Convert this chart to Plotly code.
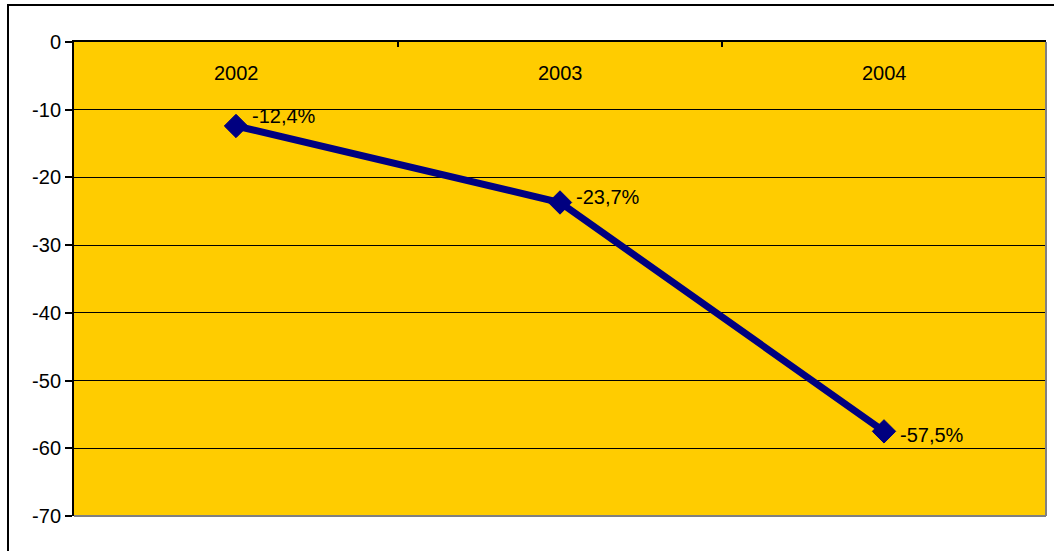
import plotly.graph_objects as go

categories = ["2002", "2003", "2004"]
values = [-12.4, -23.7, -57.5]
y_ticks = [0, -10, -20, -30, -40, -50, -60, -70]

labels = [f"{v:.1f}%".replace(".", ",") for v in values]
label_yshift = [10, 5, -4]
FONT = "Liberation Sans, Arial, sans-serif"

fig = go.Figure()
fig.add_trace(go.Scatter(
    x=list(range(len(categories))), y=values, mode="lines+markers",
    line=dict(color="#000080", width=7),
    marker=dict(symbol="diamond", size=18, color="#000080", line=dict(color="#000080", width=1)),
    cliponaxis=False, showlegend=False, hoverinfo="skip",
))

for i, (v, t) in enumerate(zip(values, labels)):
    fig.add_annotation(x=i, y=v, xref="x", yref="y", text=t, showarrow=False,
                       xanchor="left", yanchor="middle", xshift=14, yshift=label_yshift[i],
                       font=dict(family=FONT, size=20, color="black"))

for i, c in enumerate(categories):
    fig.add_annotation(x=i, y=(516 - 73) / 474, xref="x", yref="paper", text=c, showarrow=False,
                       xanchor="center", yanchor="middle",
                       font=dict(family=FONT, size=20, color="black"))

fig.update_layout(
    width=1054, height=551,
    margin=dict(l=74, r=8, t=42, b=35),
    paper_bgcolor="white", plot_bgcolor="#FFCC00",
    font=dict(family=FONT, size=20, color="black"),
    xaxis=dict(
        range=[-0.5, 2.5],
        side="top",
        showline=True, linecolor="black", linewidth=2,
        ticks="inside", ticklen=5, tickcolor="black", tickwidth=2,
        tickvals=[-0.5, 0.5, 1.5, 2.5], showticklabels=False,
        showgrid=False, zeroline=False,
    ),
    yaxis=dict(
        range=[-70, 0], tickvals=y_ticks, ticktext=[str(t) for t in y_ticks],
        showline=True, linecolor="black", linewidth=2,
        ticks="outside", ticklen=7, tickcolor="black", tickwidth=2,
        showgrid=True, gridcolor="black", gridwidth=1, zeroline=False,
        tickfont=dict(family=FONT, size=20, color="black"),
    ),
    shapes=[
        dict(type="line", xref="paper", yref="paper", x0=1, x1=1, y0=0, y1=1,
             line=dict(color="#808080", width=2), layer="above"),
        dict(type="line", xref="paper", yref="paper", x0=0, x1=1, y0=0, y1=0,
             line=dict(color="#808080", width=2), layer="above"),
        dict(type="rect", xref="paper", yref="paper",
             x0=-66/972, x1=(1060-74)/972, y0=(516-560)/474, y1=(516-5)/474,
             line=dict(color="black", width=2), layer="above"),
    ],
)

fig.write_html("out.html", config={"displayModeBar": False},
               post_script="document.body.style.margin='0';document.body.style.padding='0';")
